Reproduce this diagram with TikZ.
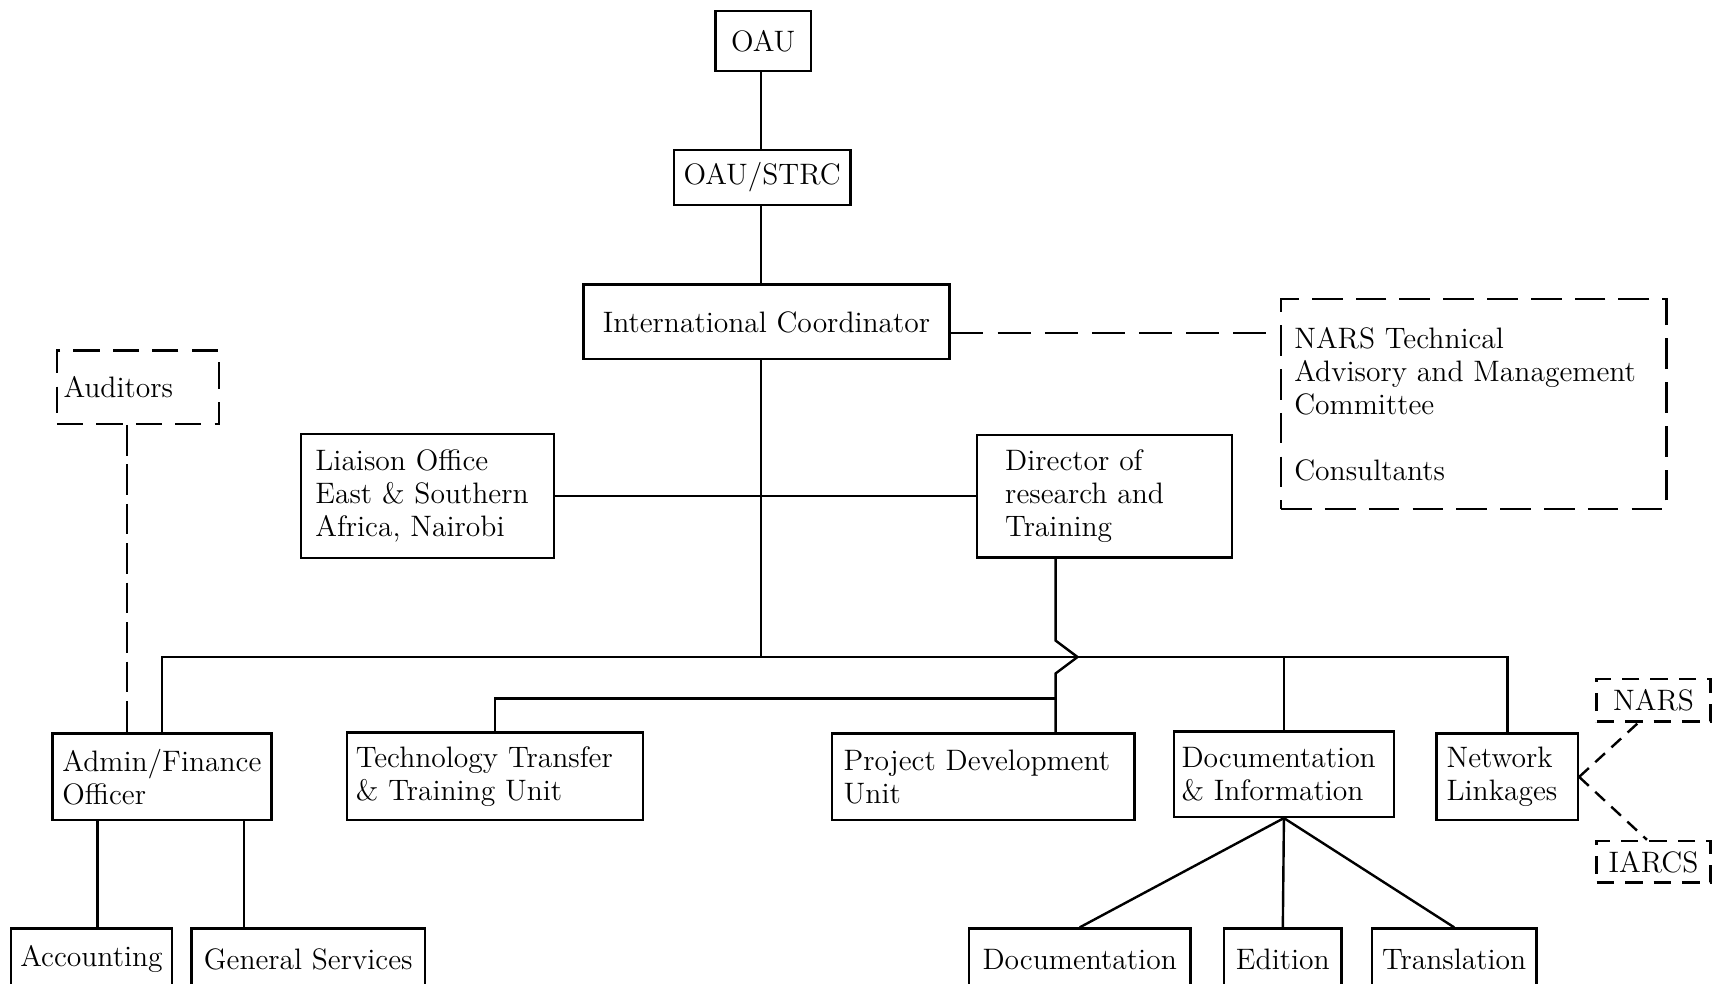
\documentclass[tikz,border=0pt]{standalone}
\usepackage{fontspec}
\usepackage{tikz}
\newcommand{\orgfont}{\fontsize{13.5}{15}\selectfont}
\tikzset{
box/.style = {rectangle, draw=black, line width=1.1pt, minimum width = #1, inner sep=0pt, font=\orgfont},
box/.default = 1cm, % width of the box
dashbox/.style = {box=#1, dash pattern=on 14pt off 6pt},
dashbox/.default = 1cm,
}

\begin{document}
\begin{tikzpicture}[x=0.5pt, y=-0.5pt, line width=1.1pt]
  \clip (0,0) rectangle (1568,898);

  % Boxes, top part
    \node[box=43.5pt, minimum height=27.5pt] (oau) at (697,37.5) {OAU};
    \node[box=80.5pt, minimum height=25pt] (strc) at (696,162) {OAU/STRC};
    \node[box=167pt, minimum height=34pt] (coord) at (700,294) {International Coordinator};
    \node[dashbox=176pt, minimum height=96pt, text width=164pt, align=left] (tamc) at (1346,369)
      {NARS Technical\\Advisory and Management\\Committee\\[15pt]Consultants};
    \node[dashbox=74pt, minimum height=33.5pt, text width=68pt, align=left, dash pattern=on 12pt off 6pt] (auditors) at (126,353.5) {Auditors};
    \node[box=115.5pt, minimum height=56.5pt, text width=102.5pt, align=left] (liaison) at (390.5,453)
      {Liaison Office\\East \& Southern\\Africa, Nairobi};
    \node[box=116.5pt, minimum height=56pt, text width=90.5pt, align=left] (director) at (1008.5,453)
      {Director of\\research and\\Training};

  % Boxes, units
    \node[box=100pt, minimum height=39.5pt, text width=91pt, align=left] (admin) at (148,709.5) {Admin/Finance\\Officer};
    \node[box=135pt, minimum height=40pt, text width=127pt, align=left] (techunit) at (452,709) {Technology Transfer\\\& Training Unit};
    \node[box=138pt, minimum height=39.5pt, text width=127.5pt, align=left] (projdev) at (898,709.5) {Project Development\\Unit};
    \node[box=100.5pt, minimum height=39pt, text width=93.5pt, align=left] (docinfo) at (1172.5,707) {Documentation\\\& Information};
    \node[box=64.5pt, minimum height=39.5pt, text width=55.5pt, align=left] (network) at (1376.5,709.5) {Network\\Linkages};
    \node[dashbox=52pt, minimum height=19.5pt, dash pattern=on 8pt off 5pt] (nars) at (1510,639.5) {NARS};
    \node[dashbox=52pt, minimum height=19pt, dash pattern=on 8pt off 5pt] (iarcs) at (1510,787) {IARCS};

  % Boxes, bottom row
    \node[box=73.5pt, minimum height=28pt] (accounting) at (83.5,876) {Accounting};
    \node[box=106.5pt, minimum height=28pt] (services) at (281.5,876) {General Services};
    \node[box=101pt, minimum height=28pt] (documentation) at (986,876) {Documentation};
    \node[box=53.5pt, minimum height=28pt] (edition) at (1171.5,876) {Edition};
    \node[box=75pt, minimum height=28pt] (translation) at (1328,876) {Translation};

  % Points
    \coordinate (bus) at (695,600);
    \coordinate (jump) at (964,600);
    \coordinate (techbus) at (964,638);
    \coordinate (audit) at ([xshift=-5pt]auditors.south);
    \coordinate (coordout) at ([yshift=-5pt]coord.east);
    \coordinate (acc) at ([xshift=-29.5pt]admin.south);
    \coordinate (gen) at ([xshift=37.5pt]admin.south);

  % Lines
    \draw (oau.south -| bus) -- (strc.north -| bus);
    \draw (strc.south -| bus) -- (coord.north -| bus);
    \draw (coord.south -| bus) -- (bus);
    \draw (liaison) -- (director);
    \draw (admin.north) |- (bus) -| (network.north);
    \draw (docinfo.north) -- (docinfo.north |- bus);
    \draw (director.south -| jump) -- ([yshift=7.5pt]jump) -- ([xshift=10pt]jump) -- ([yshift=-7.5pt]jump) -- (projdev.north -| jump);
    \draw (techunit.north) |- (techbus);
    \draw (acc) -- (acc |- accounting.north);
    \draw (gen) -- (gen |- services.north);
    \draw (docinfo.south) -- (documentation.north);
    \draw (docinfo.south) -- (edition.north);
    \draw (docinfo.south) -- (translation.north);

  % Dashed lines
    \draw[dash pattern=on 15pt off 6.5pt] (coordout) -- (coordout -| tamc.west);
    \draw[dash pattern=on 14pt off 4pt] (audit) -- (audit |- admin.north);
    \draw[dash pattern=on 6pt off 4pt] (network.east) -- ([xshift=-7pt]nars.south);
    \draw[dash pattern=on 6pt off 4pt] (network.east) -- ([xshift=-3pt]iarcs.north);
\end{tikzpicture}
\end{document}
